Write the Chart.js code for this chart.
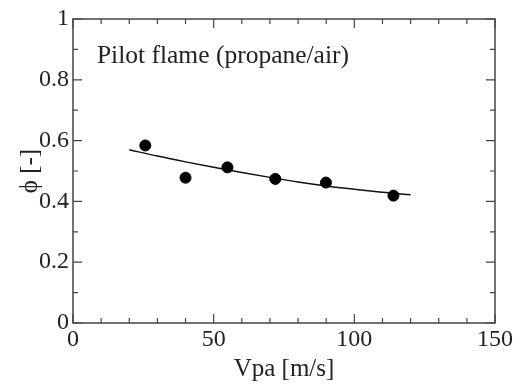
<!DOCTYPE html>
<html>
<head>
<meta charset="utf-8">
<script src="https://cdn.jsdelivr.net/npm/chart.js@4.4.1/dist/chart.umd.min.js"></script>
<style>
  html, body { margin: 0; padding: 0; background: #fff; }
  #wrap { width: 528px; height: 385px; }
</style>
</head>
<body>
<div id="wrap"><canvas id="chart" width="528" height="385"></canvas></div>
<script>
// measured points
const vpaPoints = [25.7, 40.0, 54.9, 71.9, 89.9, 113.9];
const phiPoints = [0.584, 0.478, 0.512, 0.474, 0.462, 0.419];

// fitted curve
const vpaCurve = [20, 30, 40, 50, 60, 70, 80, 90, 100, 110, 120];
const phiCurve = [0.570, 0.549, 0.530, 0.512, 0.495, 0.479, 0.464, 0.451, 0.440, 0.430, 0.422];

const xTicks = [0, 50, 100, 150];
const yTicks = [0, 0.2, 0.4, 0.6, 0.8, 1];
const xMinor = [10, 20, 30, 40, 60, 70, 80, 90, 110, 120, 130, 140];
const yMinor = [0.1, 0.3, 0.5, 0.7, 0.9];

const labelText = "Pilot flame (propane/air)";
const FONT = "'Liberation Serif', 'DejaVu Serif', serif";

function pairs(xs, ys) {
    return xs.map((x, i) => ({ x: x, y: ys[i] }));
}

const frameTicks = {
    id: "frameTicks",
    afterDraw(chart) {
        const ctx = chart.ctx;
        const a = chart.chartArea;
        const xs = chart.scales.x;
        const ys = chart.scales.y;
        ctx.save();
        ctx.strokeStyle = "#444";
        ctx.lineWidth = 1.5;
        ctx.strokeRect(a.left, a.top, a.right - a.left, a.bottom - a.top);

        ctx.lineWidth = 1.2;
        const tick = (vals, len) => {
            vals.forEach(v => {
                const px = xs.getPixelForValue(v);
                ctx.beginPath();
                ctx.moveTo(px, a.bottom); ctx.lineTo(px, a.bottom - len);
                ctx.moveTo(px, a.top); ctx.lineTo(px, a.top + len);
                ctx.stroke();
            });
        };
        const tickY = (vals, len) => {
            vals.forEach(v => {
                const py = ys.getPixelForValue(v);
                ctx.beginPath();
                ctx.moveTo(a.left, py); ctx.lineTo(a.left + len, py);
                ctx.moveTo(a.right, py); ctx.lineTo(a.right - len, py);
                ctx.stroke();
            });
        };
        tick(xTicks, 9);
        tick(xMinor, 5);
        tickY(yTicks, 9);
        tickY(yMinor, 5);

        ctx.fillStyle = "#222";
        ctx.font = "25.5px " + FONT;
        ctx.textBaseline = "alphabetic";
        ctx.textAlign = "left";
        ctx.fillText(labelText, xs.getPixelForValue(8.5), ys.getPixelForValue(0.855));
        ctx.restore();
    }
};

new Chart(document.getElementById("chart"), {
    type: "scatter",
    data: {
        datasets: [
            {
                data: pairs(vpaPoints, phiPoints),
                backgroundColor: "#000",
                borderColor: "#000",
                pointRadius: 5.5,
                showLine: false
            },
            {
                data: pairs(vpaCurve, phiCurve),
                borderColor: "#111",
                borderWidth: 1.5,
                pointRadius: 0,
                showLine: true,
                tension: 0.4,
                cubicInterpolationMode: "monotone"
            }
        ]
    },
    options: {
        responsive: false,
        animation: false,
        layout: { padding: { top: 19, right: 33, left: 15, bottom: 0 } },
        plugins: { legend: { display: false }, tooltip: { enabled: false } },
        scales: {
            x: {
                type: "linear",
                min: 0, max: 150,
                afterFit(scale) { scale.height = 62; },
                afterBuildTicks(scale) { scale.ticks = xTicks.map(v => ({ value: v })); },
                grid: { display: false, drawTicks: false },
                border: { display: false },
                ticks: {
                    color: "#222",
                    padding: 2,
                    maxRotation: 0,
                    font: { family: FONT, size: 24 }
                },
                title: {
                    display: true,
                    text: "Vpa [m/s]",
                    color: "#222",
                    padding: { top: 0, bottom: 1 },
                    font: { family: FONT, size: 25 }
                }
            },
            y: {
                type: "linear",
                min: 0, max: 1,
                afterFit(scale) { scale.width = 58; },
                afterBuildTicks(scale) { scale.ticks = yTicks.map(v => ({ value: v })); },
                grid: { display: false, drawTicks: false },
                border: { display: false },
                ticks: {
                    color: "#222",
                    padding: 4,
                    font: { family: FONT, size: 24 },
                    callback: v => String(v)
                },
                title: {
                    display: true,
                    text: "\u03D5 [-]",
                    color: "#222",
                    padding: { top: 0, bottom: 0 },
                    font: { family: FONT, size: 25 }
                }
            }
        }
    },
    plugins: [frameTicks]
});
</script>
</body>
</html>
